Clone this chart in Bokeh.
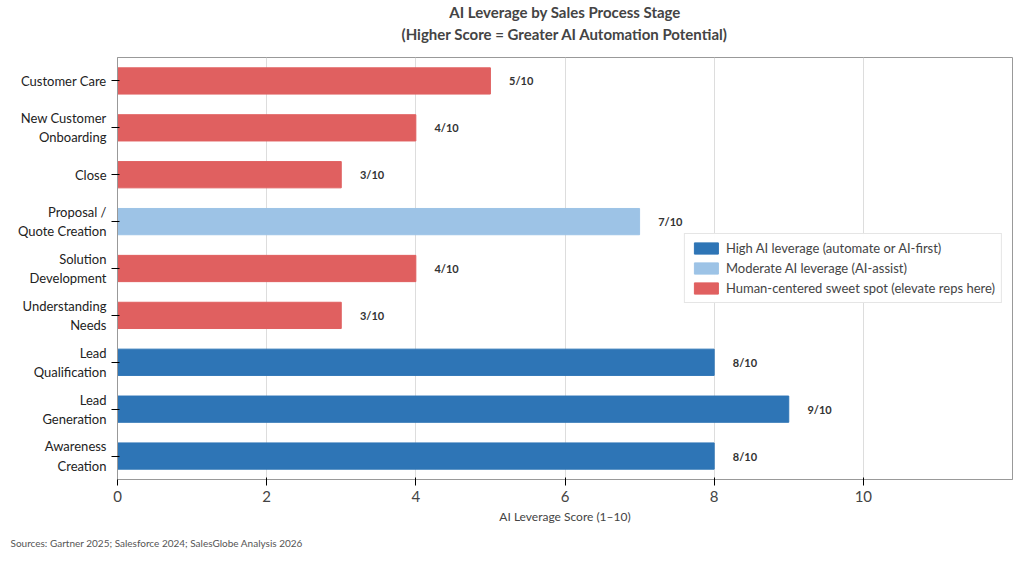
from bokeh.plotting import figure
from bokeh.models import ColumnDataSource, Legend, LegendItem, Title, FixedTicker
from bokeh.embed import file_html
from bokeh.resources import INLINE
from bokeh.core.properties import value

stages = ["Awareness\nCreation", "Lead\nGeneration", "Lead\nQualification", "Understanding\nNeeds",
          "Solution\nDevelopment", "Proposal /\nQuote Creation", "Close", "New Customer\nOnboarding", "Customer Care"]
scores = [8, 9, 8, 3, 4, 7, 3, 4, 5]
groups = ["high", "high", "high", "human", "human", "moderate", "human", "human", "human"]
colors_map = {"high": "#2e75b6", "moderate": "#9dc3e6", "human": "#e06060"}
legend_labels = {"high": "High AI leverage (automate or AI-first)",
                 "moderate": "Moderate AI leverage (AI-assist)",
                 "human": "Human-centered sweet spot (elevate reps here)"}

FONT = "Lato"
p = figure(width=1016, height=556, y_range=stages, x_range=(0, 12),
           output_backend="svg", toolbar_location=None,
           min_border_left=117, min_border_right=4, min_border_top=12, min_border_bottom=0)
p.frame_width = 895
p.outline_line_color = "#999999"

renderers = {}
for g in ["high", "moderate", "human"]:
    idx = [i for i, gg in enumerate(groups) if gg == g]
    src = ColumnDataSource(dict(y=[stages[i] for i in idx], x=[scores[i] for i in idx]))
    renderers[g] = p.hbar(y="y", right="x", left=0, height=0.56, source=src, color=colors_map[g])

lab = ColumnDataSource(dict(y=stages, x=[s + 0.25 for s in scores], t=[f"{s}/10" for s in scores]))
p.text(x="x", y="y", text="t", source=lab, text_font=value(FONT), text_font_size="11px",
       text_font_style="bold", text_color="#333333", text_baseline="middle")

legend = Legend(items=[LegendItem(label=legend_labels[g], renderers=[renderers[g]]) for g in ["high", "moderate", "human"]],
                location="right", label_text_font=FONT, label_text_font_size="13px",
                border_line_color="#cccccc", glyph_width=30, glyph_height=14, spacing=4,
                padding=6, label_height=16)
p.add_layout(legend)

p.xaxis.ticker = FixedTicker(ticks=[0, 2, 4, 6, 8, 10])
p.xaxis.axis_label = "AI Leverage Score (1–10)"
p.xaxis.axis_label_text_font = FONT
p.xaxis.axis_label_text_font_style = "normal"
p.xaxis.axis_label_text_font_size = "12px"
p.xaxis.axis_label_text_color = "#444444"
p.xaxis.axis_label_standoff = 4
p.xaxis.major_label_text_font = FONT
p.xaxis.major_label_text_font_size = "15px"
p.yaxis.major_label_text_font = FONT
p.yaxis.major_label_text_font_size = "13px"
p.yaxis.major_label_text_color = "#222222"
p.axis.minor_tick_line_color = None
p.axis.axis_line_color = "#999999"
p.ygrid.grid_line_color = None
p.xgrid.grid_line_color = "#dddddd"

p.add_layout(Title(text=" ", standoff=0, text_font=FONT, text_font_size="9px"), "above")
p.add_layout(Title(text="(Higher Score = Greater AI Automation Potential)", align="center", standoff=4,
                   text_font=FONT, text_font_size="15px", text_font_style="bold"), "above")
p.add_layout(Title(text="AI Leverage by Sales Process Stage", align="center", standoff=0,
                   text_font=FONT, text_font_size="15px", text_font_style="bold"), "above")

p.add_layout(Title(text="Sources: Gartner 2025; Salesforce 2024; SalesGlobe Analysis 2026",
                   align="left", offset=-107, standoff=16, text_font=FONT, text_font_size="10px",
                   text_font_style="normal", text_color="#555555"), "below")

open("out.html", "w").write(file_html(p, INLINE))
